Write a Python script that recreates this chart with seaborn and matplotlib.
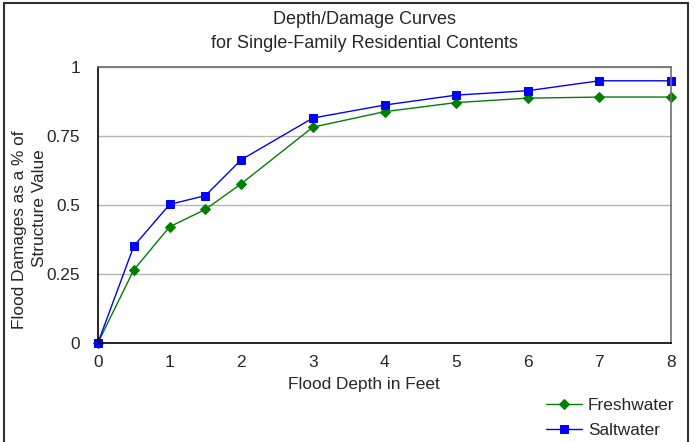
import matplotlib
matplotlib.use("Agg")
import matplotlib.pyplot as plt
from matplotlib.patches import Rectangle
import seaborn as sns
import pandas as pd

depth = [0, 0.5, 1, 1.5, 2, 3, 4, 5, 6, 7, 8]
freshwater = [0.0, 0.264, 0.420, 0.483, 0.576, 0.781, 0.837, 0.870, 0.886, 0.890, 0.890]
saltwater = [0.0, 0.350, 0.501, 0.533, 0.663, 0.814, 0.861, 0.897, 0.913, 0.949, 0.949]
xticks = [0, 1, 2, 3, 4, 5, 6, 7, 8]
yticks = [0, 0.25, 0.5, 0.75, 1]
ytick_labels = ["0", "0.25", "0.5", "0.75", "1"]

sns.set_style("white")
plt.rcParams["font.family"] = ["Liberation Sans", "DejaVu Sans"]

FS = 12.4

fig = plt.figure(figsize=(6.95, 4.42), dpi=100)
ax = fig.add_axes([98 / 695, 1 - 342.7 / 442, (671 - 98) / 695, (342.7 - 66.7) / 442])

df_f = pd.DataFrame({"x": depth, "y": freshwater})
df_s = pd.DataFrame({"x": depth, "y": saltwater})

for yv in yticks[1:]:
    ax.axhline(yv, color="#b4b4b4", lw=1.0, zorder=0)

sns.lineplot(data=df_f, x="x", y="y", ax=ax, color="#008000", lw=1.0,
             marker="D", markersize=5, markeredgecolor="#008000", label="Freshwater")
sns.lineplot(data=df_s, x="x", y="y", ax=ax, color="#0000ff", lw=1.0,
             marker="s", markersize=5.5, markeredgecolor="#0000ff", label="Saltwater")

ax.set_xlim(0, 8)
ax.set_ylim(0, 1)
ax.set_xticks(xticks)
ax.set_xticklabels([str(t) for t in xticks])
ax.set_yticks(yticks)
ax.set_yticklabels(ytick_labels)
ax.tick_params(axis="both", direction="out", length=5, width=1, color="black",
               labelsize=FS)
ax.tick_params(axis="y", pad=8)
ax.tick_params(axis="x", pad=4)
ax.set_xlabel("")
ax.set_ylabel("")
for s in ["left", "bottom"]:
    ax.spines[s].set_color("black")
    ax.spines[s].set_linewidth(1.2)
for s in ["top", "right"]:
    ax.spines[s].set_color("#707070")
    ax.spines[s].set_linewidth(1.2)
for l in ax.lines:
    l.set_clip_on(False)

leg = ax.legend(loc="center left", bbox_to_anchor=(530 / 695, 1 - 418 / 442),
                bbox_transform=fig.transFigure, frameon=False, fontsize=FS,
                handlelength=2.1, handletextpad=0.35, labelspacing=0.62)

fig.text(364 / 695, 1 - 19 / 442, "Depth/Damage Curves", ha="center", va="center", fontsize=13)
fig.text(364 / 695, 1 - 44 / 442, "for Single-Family Residential Contents", ha="center", va="center", fontsize=13)
fig.text(364 / 695, 1 - 384 / 442, "Flood Depth in Feet", ha="center", va="center", fontsize=FS)
fig.text(20 / 695, 1 - 230 / 442, "Flood Damages as a % of", ha="center", va="center",
         rotation=90, fontsize=FS)
fig.text(40 / 695, 1 - 208 / 442, "Structure Value", ha="center", va="center",
         rotation=90, fontsize=FS)

fig.patches.append(Rectangle((4 / 695, -0.05), (688 - 4) / 695, (1 - 3 / 442) + 0.05,
                             transform=fig.transFigure, fill=False, edgecolor="#303030",
                             lw=1.5, zorder=10))

fig.savefig("out.png", dpi=100)
